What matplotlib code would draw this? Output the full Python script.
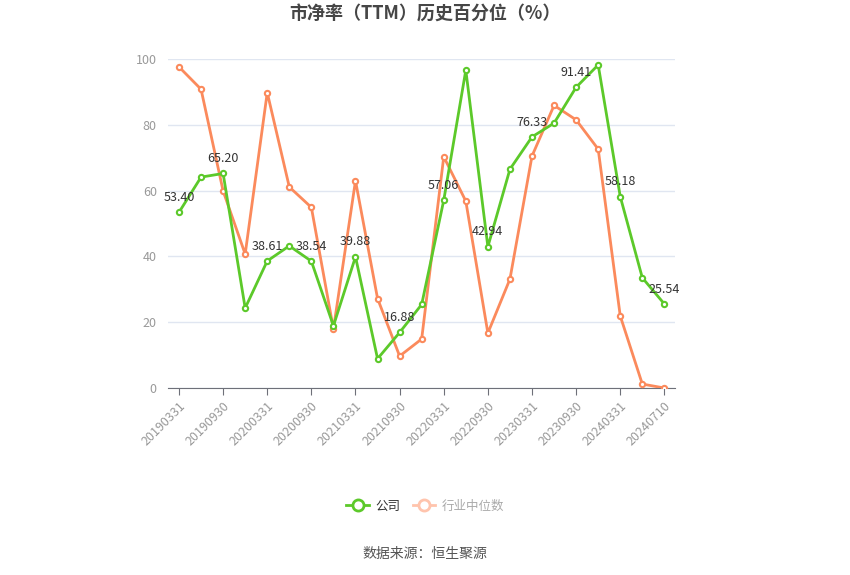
import matplotlib
matplotlib.use("Agg")
import matplotlib.pyplot as plt
from matplotlib.lines import Line2D

plt.rcParams["font.family"] = ["Noto Sans CJK SC", "DejaVu Sans"]

dates = [
    "20190331", "20190630", "20190930", "20191231",
    "20200331", "20200630", "20200930", "20201231",
    "20210331", "20210630", "20210930", "20211231",
    "20220331", "20220630", "20220930", "20221231",
    "20230331", "20230630", "20230930", "20231231",
    "20240331", "20240630", "20240710",
]
company = [
    53.40, 64.1, 65.20, 24.3, 38.61, 43.2, 38.54, 18.9,
    39.88, 8.9, 16.88, 25.4, 57.06, 96.6, 42.94, 66.5,
    76.33, 80.5, 91.41, 98.2, 58.18, 33.5, 25.54,
]
industry = [
    97.6, 90.8, 59.9, 40.7, 89.8, 61.1, 54.9, 17.9,
    63.0, 27.2, 9.7, 14.9, 70.3, 56.8, 16.7, 33.1,
    70.5, 85.9, 81.5, 72.6, 21.9, 1.2, 0.0,
]
series_names = ["公司", "行业中位数"]

green = "#5cc92a"
orange = "#fb8a5c"

fig = plt.figure(figsize=(8.5, 5.75), dpi=100)
ax = fig.add_axes([0.1976, 0.3252, 0.597, 0.5722])

x = list(range(len(dates)))
ax.plot(x, industry, color=orange, lw=2, marker="o", ms=3.8, mfc="white",
        mec=orange, mew=1.5, zorder=3)
ax.plot(x, company, color=green, lw=2, marker="o", ms=3.8, mfc="white",
        mec=green, mew=1.5, zorder=4)

# every other company point gets its value on top
for i in range(0, len(dates), 2):
    ax.annotate(f"{company[i]:.2f}", (i, company[i]), xytext=(0, 6),
                textcoords="offset points", ha="center", va="bottom",
                fontsize=9, color="#333333", zorder=5)

ax.set_xlim(-0.5, len(dates) - 0.5)
ax.set_ylim(0, 100)
ax.set_yticks(range(0, 101, 20))
ax.grid(axis="y", color="#e0e6f1", lw=1)
ax.set_axisbelow(True)

tick_idx = list(range(0, len(dates) - 1, 2)) + [len(dates) - 1]
ax.set_xticks(tick_idx)
ax.set_xticklabels([dates[i] for i in tick_idx], rotation=45, ha="right",
                   rotation_mode="anchor")

for side in ["top", "right", "left"]:
    ax.spines[side].set_visible(False)
ax.spines["bottom"].set_color("#6e7079")
ax.tick_params(axis="x", colors="#6e7079", labelcolor="#999999",
               labelsize=9, length=5, pad=3)
ax.tick_params(axis="y", length=0, labelcolor="#999999", labelsize=9, pad=8)

fig.text(0.5, 0.975, "市净率（TTM）历史百分位（%）", ha="center", va="center",
         fontsize=13, fontweight="bold", color="#464646")

handles = [
    Line2D([0], [0], color=green, lw=2, marker="o", ms=8, mfc="white",
           mec=green, mew=2),
    Line2D([0], [0], color="#ffc4ad", lw=2, marker="o", ms=8, mfc="white",
           mec="#ffc4ad", mew=2),
]
leg = fig.legend(handles, series_names, loc="center", bbox_to_anchor=(0.5, 0.12),
                 ncol=2, frameon=False, fontsize=9, handlelength=1.8,
                 columnspacing=1.0, handletextpad=0.5)
leg.get_texts()[0].set_color("#333333")
leg.get_texts()[1].set_color("#aaaaaa")

fig.text(0.5, 0.036, "数据来源：恒生聚源", ha="center", va="center",
         fontsize=10, color="#555555")

fig.savefig("out.png")
